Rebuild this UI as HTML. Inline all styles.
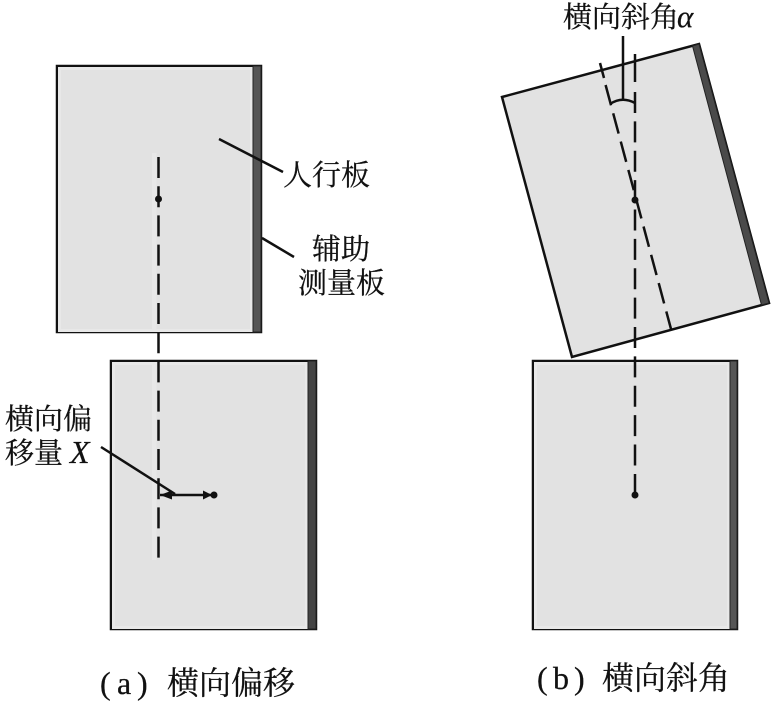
<!DOCTYPE html>
<html>
<head>
<meta charset="utf-8">
<style>
html,body{margin:0;padding:0;background:#fff;width:776px;height:704px;overflow:hidden}
svg{display:block}
text{font-family:"Liberation Serif","Noto Serif CJK SC",serif;fill:#111;stroke:#111;stroke-width:.25px;font-size:29px}
.it{font-style:italic}
.cap{font-size:32px}
.x{font-size:32px}
.al{font-size:31px}
</style>
</head>
<body>
<svg width="776" height="704" viewBox="0 0 776 704" xmlns="http://www.w3.org/2000/svg">
<!-- Panel A top -->
<rect x="57" y="66" width="204" height="266" fill="#e2e2e2" stroke="#111" stroke-width="2.5"/>
<rect x="59.500" y="68.500" width="192" height="262" fill="none" stroke="#e8e8e8" stroke-width="3"/>
<rect x="152" y="153" width="4.500" height="178" fill="#e8e8e8"/>
<rect x="253" y="66" width="8" height="266" fill="#555" stroke="#222" stroke-width="1"/>
<!-- Panel A bottom -->
<rect x="111" y="361" width="205" height="268" fill="#e2e2e2" stroke="#111" stroke-width="2.5"/>
<rect x="113.500" y="363.500" width="193" height="264" fill="none" stroke="#e8e8e8" stroke-width="3"/>
<rect x="152" y="363" width="4.500" height="197" fill="#e8e8e8"/>
<rect x="308" y="361" width="8" height="268" fill="#444" stroke="#222" stroke-width="1"/>
<!-- Panel B bottom -->
<rect x="533" y="361" width="204" height="268" fill="#e2e2e2" stroke="#111" stroke-width="2.5"/>
<rect x="535.500" y="363.500" width="193" height="264" fill="none" stroke="#e8e8e8" stroke-width="3"/>
<rect x="730" y="361" width="7" height="268" fill="#555" stroke="#222" stroke-width="1"/>
<!-- Panel B tilted -->
<polygon points="502,97 699,44 769,303 572,357" fill="#e2e2e2" stroke="#111" stroke-width="2.5" stroke-linejoin="miter"/>
<polygon points="692.5,46 699,44 769,303 761.5,305" fill="#4a4a4a" stroke="#222" stroke-width="1"/>
<!-- Dashed -->
<line x1="158.500" y1="157" x2="158.500" y2="558" stroke="#111" stroke-width="2.500" stroke-dasharray="21 8.200"/>
<line x1="635" y1="54" x2="635" y2="82" stroke="#111" stroke-width="2.500"/>
<line x1="635" y1="92" x2="635" y2="495" stroke="#111" stroke-width="2.500" stroke-dasharray="21 8.380"/>
<line x1="600" y1="63" x2="604" y2="78" stroke="#111" stroke-width="2.500"/>
<line x1="605.600" y1="85" x2="671" y2="329" stroke="#111" stroke-width="2.500" stroke-dasharray="21 8.300"/>
<!-- Leaders -->
<line x1="219" y1="139" x2="283" y2="172" stroke="#111" stroke-width="2.500"/>
<line x1="262" y1="238" x2="294" y2="257" stroke="#111" stroke-width="2.500"/>
<line x1="101" y1="447" x2="175" y2="494" stroke="#111" stroke-width="2.500"/>
<line x1="623" y1="36" x2="623" y2="100" stroke="#111" stroke-width="2.500"/>
<path d="M610,104 Q622,96 635,103" fill="none" stroke="#111" stroke-width="2.500"/>
<!-- Arrow -->
<line x1="160" y1="495" x2="212" y2="495" stroke="#111" stroke-width="2.500"/>
<polygon points="160,495 172,490.500 172,499.500" fill="#111"/>
<polygon points="212,495 203,490.500 203,499.500" fill="#111"/>
<!-- Dots -->
<circle cx="158.500" cy="199" r="3.500" fill="#111"/>
<circle cx="214" cy="495" r="3.500" fill="#111"/>
<circle cx="635" cy="200" r="3.500" fill="#111"/>
<circle cx="635" cy="495" r="3.500" fill="#111"/>
<!-- Labels -->
<text x="283" y="185">人行板</text>
<text x="312" y="259">辅助</text>
<text x="298" y="293">测量板</text>
<text x="5" y="429">横向偏</text>
<text x="5" y="463">移量</text>
<text x="70" y="463" class="it x">X</text>
<text x="563" y="27">横向斜角</text>
<text x="677" y="27" class="it al">α</text>
<text x="100" y="694" class="cap">(</text>
<text x="117" y="694" class="cap">a</text>
<text x="137" y="694" class="cap">)</text>
<text x="167" y="694" class="cap">横向偏移</text>
<text x="537" y="689" class="cap">(</text>
<text x="553" y="689" class="cap">b</text>
<text x="574" y="689" class="cap">)</text>
<text x="602" y="689" class="cap">横向斜角</text>
</svg>
</body>
</html>
